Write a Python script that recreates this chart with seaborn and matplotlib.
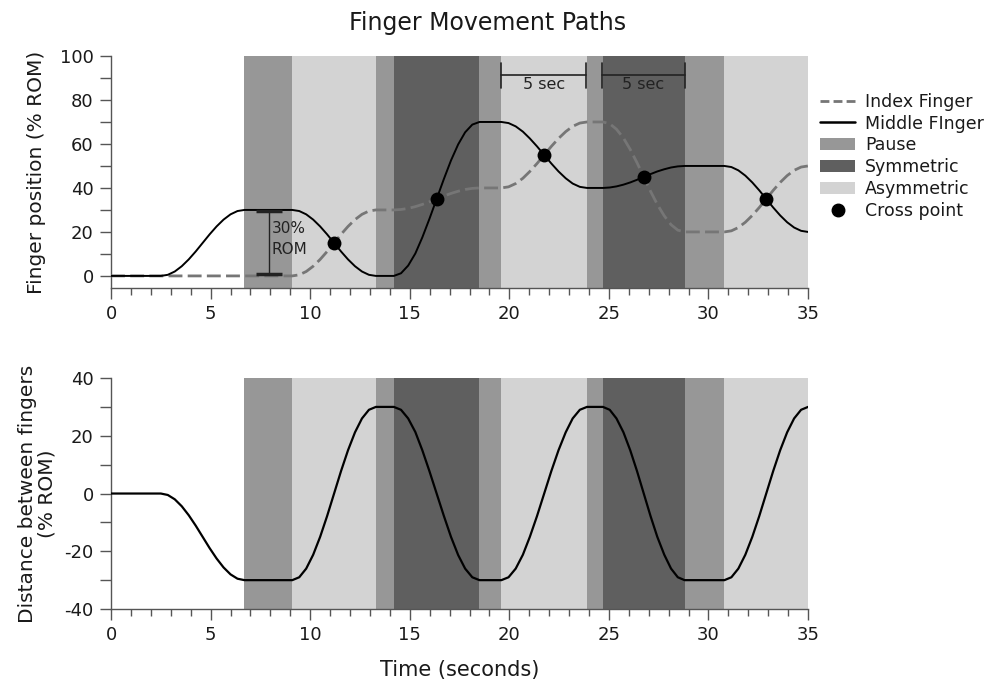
import matplotlib
matplotlib.use("Agg")
import matplotlib.pyplot as plt
import seaborn as sns
from matplotlib.patches import Patch
from matplotlib.lines import Line2D
from matplotlib.ticker import MultipleLocator

# ---------------- data ----------------
time_s = [0.0,
          2.5, 2.85, 3.2, 3.55, 3.9, 4.25, 4.6, 4.95, 5.3, 5.65, 6.0, 6.35, 6.7,
          9.1, 9.45, 9.8, 10.15, 10.5, 10.85, 11.2, 11.55, 11.9, 12.25, 12.6, 12.95, 13.3,
          14.2, 14.56, 14.92, 15.28, 15.63, 15.99, 16.35, 16.71, 17.07, 17.43, 17.78, 18.14, 18.5,
          19.6, 19.96, 20.32, 20.68, 21.03, 21.39, 21.75, 22.11, 22.47, 22.83, 23.18, 23.54, 23.9,
          24.7, 25.04, 25.38, 25.73, 26.07, 26.41, 26.75, 27.09, 27.43, 27.78, 28.12, 28.46, 28.8,
          30.8, 31.15, 31.5, 31.85, 32.2, 32.55, 32.9, 33.25, 33.6, 33.95, 34.3, 34.65, 35.0]

middle_finger = [0.0,
                 0.0, 0.5, 2.0, 4.4, 7.5, 11.1, 15.0, 18.9, 22.5, 25.6, 28.0, 29.5, 30.0,
                 30.0, 29.5, 28.0, 25.6, 22.5, 18.9, 15.0, 11.1, 7.5, 4.4, 2.0, 0.5, 0.0,
                 0.0, 1.2, 4.7, 10.2, 17.5, 26.0, 35.0, 44.0, 52.5, 59.8, 65.3, 68.8, 70.0,
                 70.0, 69.5, 68.0, 65.6, 62.5, 58.9, 55.0, 51.1, 47.5, 44.4, 42.0, 40.5, 40.0,
                 40.0, 40.2, 40.7, 41.5, 42.5, 43.7, 45.0, 46.3, 47.5, 48.5, 49.3, 49.8, 50.0,
                 50.0, 49.5, 48.0, 45.6, 42.5, 38.9, 35.0, 31.1, 27.5, 24.4, 22.0, 20.5, 20.0]

index_finger = [0.0,
                0.0, 0.0, 0.0, 0.0, 0.0, 0.0, 0.0, 0.0, 0.0, 0.0, 0.0, 0.0, 0.0,
                0.0, 0.5, 2.0, 4.4, 7.5, 11.1, 15.0, 18.9, 22.5, 25.6, 28.0, 29.5, 30.0,
                30.0, 30.2, 30.7, 31.5, 32.5, 33.7, 35.0, 36.3, 37.5, 38.5, 39.3, 39.8, 40.0,
                40.0, 40.5, 42.0, 44.4, 47.5, 51.1, 55.0, 58.9, 62.5, 65.6, 68.0, 69.5, 70.0,
                70.0, 69.2, 66.7, 62.7, 57.5, 51.5, 45.0, 38.5, 32.5, 27.3, 23.3, 20.8, 20.0,
                20.0, 20.5, 22.0, 24.4, 27.5, 31.1, 35.0, 38.9, 42.5, 45.6, 48.0, 49.5, 50.0]

finger_distance = [0.0,
                   0.0, -0.5, -2.0, -4.4, -7.5, -11.1, -15.0, -18.9, -22.5, -25.6, -28.0, -29.5, -30.0,
                   -30.0, -29.0, -26.0, -21.2, -15.0, -7.8, 0.0, 7.8, 15.0, 21.2, 26.0, 29.0, 30.0,
                   30.0, 29.0, 26.0, 21.3, 15.0, 7.7, 0.0, -7.7, -15.0, -21.3, -26.0, -29.0, -30.0,
                   -30.0, -29.0, -26.0, -21.2, -15.0, -7.8, 0.0, 7.8, 15.0, 21.2, 26.0, 29.0, 30.0,
                   30.0, 29.0, 26.0, 21.2, 15.0, 7.8, 0.0, -7.8, -15.0, -21.2, -26.0, -29.0, -30.0,
                   -30.0, -29.0, -26.0, -21.2, -15.0, -7.8, 0.0, 7.8, 15.0, 21.2, 26.0, 29.0, 30.0]

cross_time = [11.2, 16.35, 21.75, 26.75, 32.9]
cross_pos = [15.0, 35.0, 55.0, 45.0, 35.0]

band_start = [6.7, 9.1, 13.3, 14.2, 18.5, 19.6, 23.9, 24.7, 28.8, 30.8]
band_end = [9.1, 13.3, 14.2, 18.5, 19.6, 23.9, 24.7, 28.8, 30.8, 35.0]
band_phase = ["Pause", "Asymmetric", "Pause", "Symmetric", "Pause",
              "Asymmetric", "Pause", "Symmetric", "Pause", "Asymmetric"]

x_ticks = [0, 5, 10, 15, 20, 25, 30, 35]
y1_ticks = [0, 20, 40, 60, 80, 100]
y2_ticks = [-40, -20, 0, 20, 40]

phase_colors = {"Pause": "#979797", "Symmetric": "#5f5f5f", "Asymmetric": "#d3d3d3"}
index_color = "#767676"

# ---------------- style ----------------
sns.set_style("ticks")
plt.rcParams["font.family"] = ["DejaVu Sans"]
plt.rcParams["axes.unicode_minus"] = False
text_color = "#1a1a1a"
spine_color = "#555555"

fig = plt.figure(figsize=(9.87, 6.82), dpi=100)
ax1 = fig.add_axes([0.1125, 0.5777, 0.7062, 0.3402])
ax2 = fig.add_axes([0.1125, 0.1070, 0.7062, 0.3387])

for ax in (ax1, ax2):
    for s, e, p in zip(band_start, band_end, band_phase):
        ax.axvspan(s, e, color=phase_colors[p], lw=0, zorder=0)

# top panel
sns.lineplot(x=time_s, y=index_finger, ax=ax1, color=index_color, lw=2.0,
             linestyle=(0, (5.0, 1.9)), estimator=None, sort=False, zorder=3)
sns.lineplot(x=time_s, y=middle_finger, ax=ax1, color="black", lw=1.4,
             estimator=None, sort=False, zorder=4)
sns.scatterplot(x=cross_time, y=cross_pos, ax=ax1, color="black", s=100,
                edgecolor="black", linewidth=0, zorder=5)

# 30% ROM annotation
ax1.plot([7.95, 7.95], [0.8, 29.5], color="#222222", lw=1.0, zorder=4)
ax1.plot([7.3, 8.6], [29.4, 29.4], color="#222222", lw=2.5, zorder=4, solid_capstyle="butt")
ax1.plot([7.3, 8.6], [0.9, 0.9], color="#222222", lw=2.5, zorder=4, solid_capstyle="butt")
ax1.text(8.05, 17.0, "30%\nROM", fontsize=11, color="#222222", ha="left", va="center",
         linespacing=1.5, zorder=6)

# 5 sec brackets
for s, e in [(19.6, 23.85), (24.65, 28.8)]:
    ax1.plot([s, e], [91.5, 91.5], color="#222222", lw=1.2, zorder=4)
    ax1.plot([s, s], [85.5, 96.8], color="#222222", lw=1.2, zorder=4)
    ax1.plot([e, e], [85.5, 96.8], color="#222222", lw=1.2, zorder=4)
    ax1.text((s + e) / 2, 87.0, "5 sec", fontsize=11.5, color="#222222",
             ha="center", va="center", zorder=6)

ax1.set_ylim(-5.5, 100)
ax1.set_yticks(y1_ticks)
ax1.yaxis.set_minor_locator(MultipleLocator(10))
ax1.set_ylabel("Finger position (% ROM)", fontsize=14.5, color=text_color, labelpad=10)

# bottom panel
sns.lineplot(x=time_s, y=finger_distance, ax=ax2, color="black", lw=1.6,
             estimator=None, sort=False, zorder=4)
ax2.set_ylim(-40, 40)
ax2.set_yticks(y2_ticks)
ax2.yaxis.set_minor_locator(MultipleLocator(10))
ax2.set_ylabel("Distance between fingers\n(% ROM)", fontsize=14.5, color=text_color,
               labelpad=6, linespacing=1.0)
ax2.set_xlabel("Time (seconds)", fontsize=15, color=text_color, labelpad=11)

for ax in (ax1, ax2):
    ax.set_xlim(0, 35)
    ax.set_xticks(x_ticks)
    ax.xaxis.set_minor_locator(MultipleLocator(1))
    for side in ("top", "right"):
        ax.spines[side].set_visible(False)
    for side in ("left", "bottom"):
        ax.spines[side].set_color(spine_color)
        ax.spines[side].set_linewidth(1.0)
    ax.tick_params(axis="both", which="major", direction="out", length=8, width=1.0,
                   color=spine_color, labelsize=13, labelcolor=text_color, pad=4.5)
    ax.tick_params(axis="x", which="minor", direction="out", length=5, width=1.0,
                   color=spine_color)
    ax.tick_params(axis="y", which="minor", direction="out", length=8, width=1.0,
                   color=spine_color)
    ax.set_facecolor("white")

fig.text(0.494, 0.966, "Finger Movement Paths", ha="center", va="center",
         fontsize=17, color=text_color)

handles = [
    Line2D([0], [0], color=index_color, lw=2.0, linestyle=(0, (3.2, 1.5))),
    Line2D([0], [0], color="black", lw=1.8),
    Patch(facecolor=phase_colors["Pause"], edgecolor="none"),
    Patch(facecolor=phase_colors["Symmetric"], edgecolor="none"),
    Patch(facecolor=phase_colors["Asymmetric"], edgecolor="none"),
    Line2D([0], [0], marker="o", color="none", markerfacecolor="black",
           markeredgecolor="black", markersize=9),
]
labels = ["Index Finger", "Middle FInger", "Pause", "Symmetric", "Asymmetric", "Cross point"]
fig.legend(handles, labels, loc="upper left", bbox_to_anchor=(0.831, 0.864),
           frameon=False, fontsize=12.5, handlelength=2.0, handleheight=0.7,
           handletextpad=0.6, labelspacing=0.22, borderaxespad=0, borderpad=0,
           labelcolor=text_color)

fig.savefig("out.png", dpi=100)
